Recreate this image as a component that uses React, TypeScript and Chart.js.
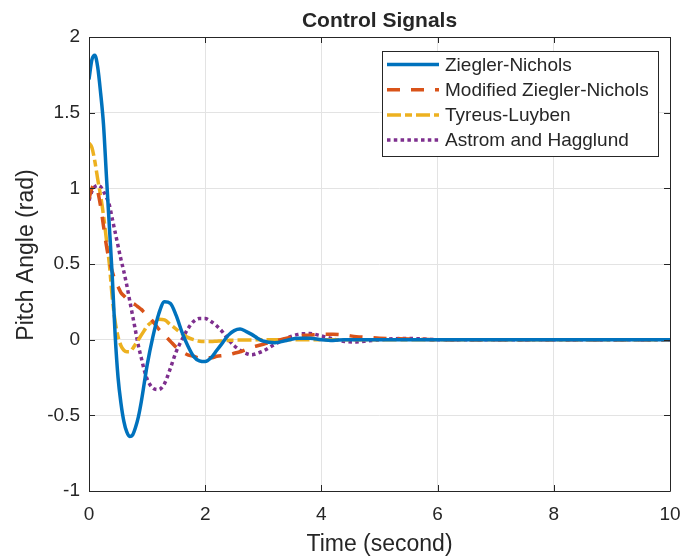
import React, { useEffect, useRef } from "react";
import { Chart, registerables } from "chart.js";

Chart.register(...registerables);

// ---- data ----
const timeSec = [
  0, 0.05, 0.1, 0.15, 0.2, 0.25, 0.3, 0.35, 0.4, 0.45, 0.5, 0.55, 0.6, 0.65, 0.7, 0.75, 0.8, 0.85, 0.9, 0.95,
  1.0, 1.1, 1.2, 1.3, 1.4, 1.5, 1.6, 1.7, 1.8, 1.9, 2.0, 2.1, 2.2, 2.3, 2.4, 2.5, 2.6, 2.7, 2.8, 2.9,
  3.0, 3.2, 3.4, 3.6, 3.8, 4.0, 4.2, 4.4, 4.6, 4.8, 5.0, 5.5, 6.0, 7, 8, 9, 10,
];

const zieglerNichols = [
  1.72, 1.85, 1.88, 1.8, 1.63, 1.42, 1.08, 0.75, 0.42, 0.03, -0.25, -0.42, -0.54, -0.61, -0.64, -0.63, -0.58, -0.51, -0.41, -0.29,
  -0.17, 0.02, 0.17, 0.25, 0.24, 0.16, 0.05, -0.04, -0.11, -0.14, -0.145, -0.12, -0.07, -0.02, 0.03, 0.06, 0.07, 0.055, 0.035, 0.01,
  -0.01, -0.02, -0.005, 0.01, 0.01, 0.0, -0.005, 0.0, 0.0, 0.0, 0.0, 0.0, 0.0, 0, 0, 0, 0,
];

const modifiedZieglerNichols = [
  0.93, 1.0, 1.02, 0.98, 0.88, 0.75, 0.62, 0.52, 0.45, 0.39, 0.35, 0.31, 0.29, 0.27, 0.25, 0.24, 0.23, 0.215, 0.2, 0.18,
  0.16, 0.12, 0.07, 0.03, -0.01, -0.05, -0.08, -0.1, -0.11, -0.12, -0.12, -0.12, -0.11, -0.105, -0.1, -0.09, -0.08, -0.065, -0.05, -0.04,
  -0.03, -0.01, 0.01, 0.025, 0.03, 0.035, 0.035, 0.03, 0.02, 0.015, 0.01, 0.005, 0.0, 0, 0, 0, 0,
];

const tyreusLuyben = [
  1.3, 1.27, 1.18, 1.06, 0.95, 0.82, 0.66, 0.5, 0.28, 0.12, 0.02, -0.04, -0.07, -0.08, -0.08, -0.06, -0.03, 0.0, 0.03, 0.06,
  0.09, 0.12, 0.135, 0.13, 0.1, 0.07, 0.04, 0.015, 0.0, -0.01, -0.012, -0.012, -0.01, -0.008, -0.005, -0.003, -0.003, -0.002, -0.002, -0.001,
  0.0, 0.0, 0.0, 0.0, 0.0, 0.0, 0.0, 0.0, 0.0, 0.0, 0.0, 0.0, 0.0, 0, 0, 0, 0,
];

const astromHagglund = [
  0.92, 0.98, 1.01, 1.02, 1.01, 0.98, 0.94, 0.89, 0.8, 0.71, 0.62, 0.53, 0.45, 0.36, 0.26, 0.16, 0.06, -0.04, -0.12, -0.2,
  -0.26, -0.32, -0.33, -0.29, -0.19, -0.08, 0.0, 0.07, 0.12, 0.14, 0.14, 0.12, 0.09, 0.05, 0.0, -0.04, -0.07, -0.09, -0.1, -0.09,
  -0.075, -0.03, 0.01, 0.035, 0.04, 0.025, 0.005, -0.012, -0.015, -0.008, 0.0, 0.008, 0.0, 0, 0, 0, 0,
];

const seriesLabels = ["Ziegler-Nichols", "Modified Ziegler-Nichols", "Tyreus-Luyben", "Astrom and Hagglund"];
const xTickValues = [0, 2, 4, 6, 8, 10];
const yTickValues = [-1, -0.5, 0, 0.5, 1, 1.5, 2];
const chartTitle = "Control Signals";
const xAxisTitle = "Time (second)";
const yAxisTitle = "Pitch Angle (rad)";

// ---- styles ----
const FONT = "Arial, 'Liberation Sans', Helvetica, sans-serif";
const TEXT = "#262626";
const colors = ["#0072BD", "#D95319", "#EDB120", "#7E2F8E"];
const dashes: number[][] = [[], [13, 11], [14, 4, 7, 4], [3.5, 3.3]];

const decorPlugin = {
  id: "matlabDecor",
  afterDatasetsDraw(chart: any) {
    const { ctx, chartArea } = chart;
    const { left, right, top, bottom } = chartArea;
    const xs = chart.scales.x;
    const ys = chart.scales.y;
    ctx.save();
    // box
    ctx.strokeStyle = TEXT;
    ctx.lineWidth = 1;
    ctx.setLineDash([]);
    ctx.beginPath();
    ctx.rect(Math.round(left) + 0.5, Math.round(top) + 0.5, Math.round(right - left), Math.round(bottom - top));
    ctx.stroke();
    // inward ticks
    const tl = 6;
    ctx.beginPath();
    xTickValues.forEach((v) => {
      const px = Math.round(xs.getPixelForValue(v)) + 0.5;
      ctx.moveTo(px, bottom);
      ctx.lineTo(px, bottom - tl);
      ctx.moveTo(px, top);
      ctx.lineTo(px, top + tl);
    });
    yTickValues.forEach((v) => {
      const py = Math.round(ys.getPixelForValue(v)) + 0.5;
      ctx.moveTo(left, py);
      ctx.lineTo(left + tl, py);
      ctx.moveTo(right, py);
      ctx.lineTo(right - tl, py);
    });
    ctx.stroke();

    // titles
    ctx.fillStyle = TEXT;
    ctx.textAlign = "center";
    ctx.textBaseline = "alphabetic";
    ctx.font = `bold 21px ${FONT}`;
    ctx.fillText(chartTitle, (left + right) / 2, 27);
    ctx.font = `23px ${FONT}`;
    ctx.fillText(xAxisTitle, (left + right) / 2, 551);
    ctx.save();
    ctx.translate(33, 255);
    ctx.rotate(-Math.PI / 2);
    ctx.fillText(yAxisTitle, 0, 0);
    ctx.restore();

    // legend
    const lx = 382, ly = 51, lw = 276, lh = 105;
    ctx.fillStyle = "#ffffff";
    ctx.fillRect(lx, ly, lw, lh);
    ctx.strokeStyle = TEXT;
    ctx.lineWidth = 1;
    ctx.strokeRect(lx + 0.5, ly + 0.5, lw, lh);
    chart.data.datasets.forEach((ds: any, i: number) => {
      const ry = 64.5 + i * 25.2;
      ctx.strokeStyle = ds.borderColor;
      ctx.lineWidth = ds.borderWidth;
      ctx.setLineDash(ds.borderDash || []);
      ctx.lineCap = "butt";
      ctx.beginPath();
      ctx.moveTo(387, ry);
      ctx.lineTo(439, ry);
      ctx.stroke();
      ctx.setLineDash([]);
      ctx.fillStyle = TEXT;
      ctx.font = `19px ${FONT}`;
      ctx.textAlign = "left";
      ctx.textBaseline = "middle";
      ctx.fillText(ds.label, 445, ry + 1);
    });
    ctx.restore();
  },
};

export default function App() {
  const ref = useRef<HTMLCanvasElement>(null);
  useEffect(() => {
    document.body.style.margin = "0";
    const series = [zieglerNichols, modifiedZieglerNichols, tyreusLuyben, astromHagglund];
    const chart = new Chart(ref.current!, {
      type: "line",
      data: {
        datasets: series.map((vals, i) => ({
          label: seriesLabels[i],
          data: timeSec.map((t, k) => ({ x: t, y: vals[k] })),
          borderColor: colors[i],
          backgroundColor: colors[i],
          borderWidth: 3.5,
          borderDash: dashes[i],
          pointRadius: 0,
          fill: false,
          cubicInterpolationMode: "monotone" as const,
        })),
      },
      options: {
        responsive: false,
        animation: false,
        events: [],
        layout: { padding: { top: 37, right: 13, left: 0, bottom: 0 } },
        plugins: { legend: { display: false }, title: { display: false }, tooltip: { enabled: false } },
        scales: {
          x: {
            type: "linear",
            min: 0,
            max: 10,
            afterBuildTicks: (s: any) => {
              s.ticks = xTickValues.map((v) => ({ value: v }));
            },
            afterFit: (s: any) => {
              s.height = 68;
              s.paddingLeft = 0;
              s.paddingRight = 0;
            },
            grid: { color: "#e3e3e3", lineWidth: 1, drawTicks: false },
            border: { display: false },
            ticks: {
              padding: 12,
              color: TEXT,
              font: { family: FONT, size: 19 },
              maxRotation: 0,
              autoSkip: false,
              callback: (v: any) => String(v),
            },
          },
          y: {
            type: "linear",
            min: -1,
            max: 2,
            afterBuildTicks: (s: any) => {
              s.ticks = yTickValues.map((v) => ({ value: v }));
            },
            afterFit: (s: any) => {
              s.width = 89;
              s.paddingTop = 0;
              s.paddingBottom = 0;
            },
            grid: { color: "#e3e3e3", lineWidth: 1, drawTicks: false },
            border: { display: false },
            ticks: {
              padding: 9,
              color: TEXT,
              font: { family: FONT, size: 19 },
              autoSkip: false,
              callback: (v: any) => String(v),
            },
          },
        },
      },
      plugins: [decorPlugin],
    });
    return () => chart.destroy();
  }, []);
  return (
    <div style={{ position: "absolute", left: 0, top: 0, width: 683, height: 559, background: "#fff" }}>
      <canvas ref={ref} width={683} height={559} />
    </div>
  );
}
